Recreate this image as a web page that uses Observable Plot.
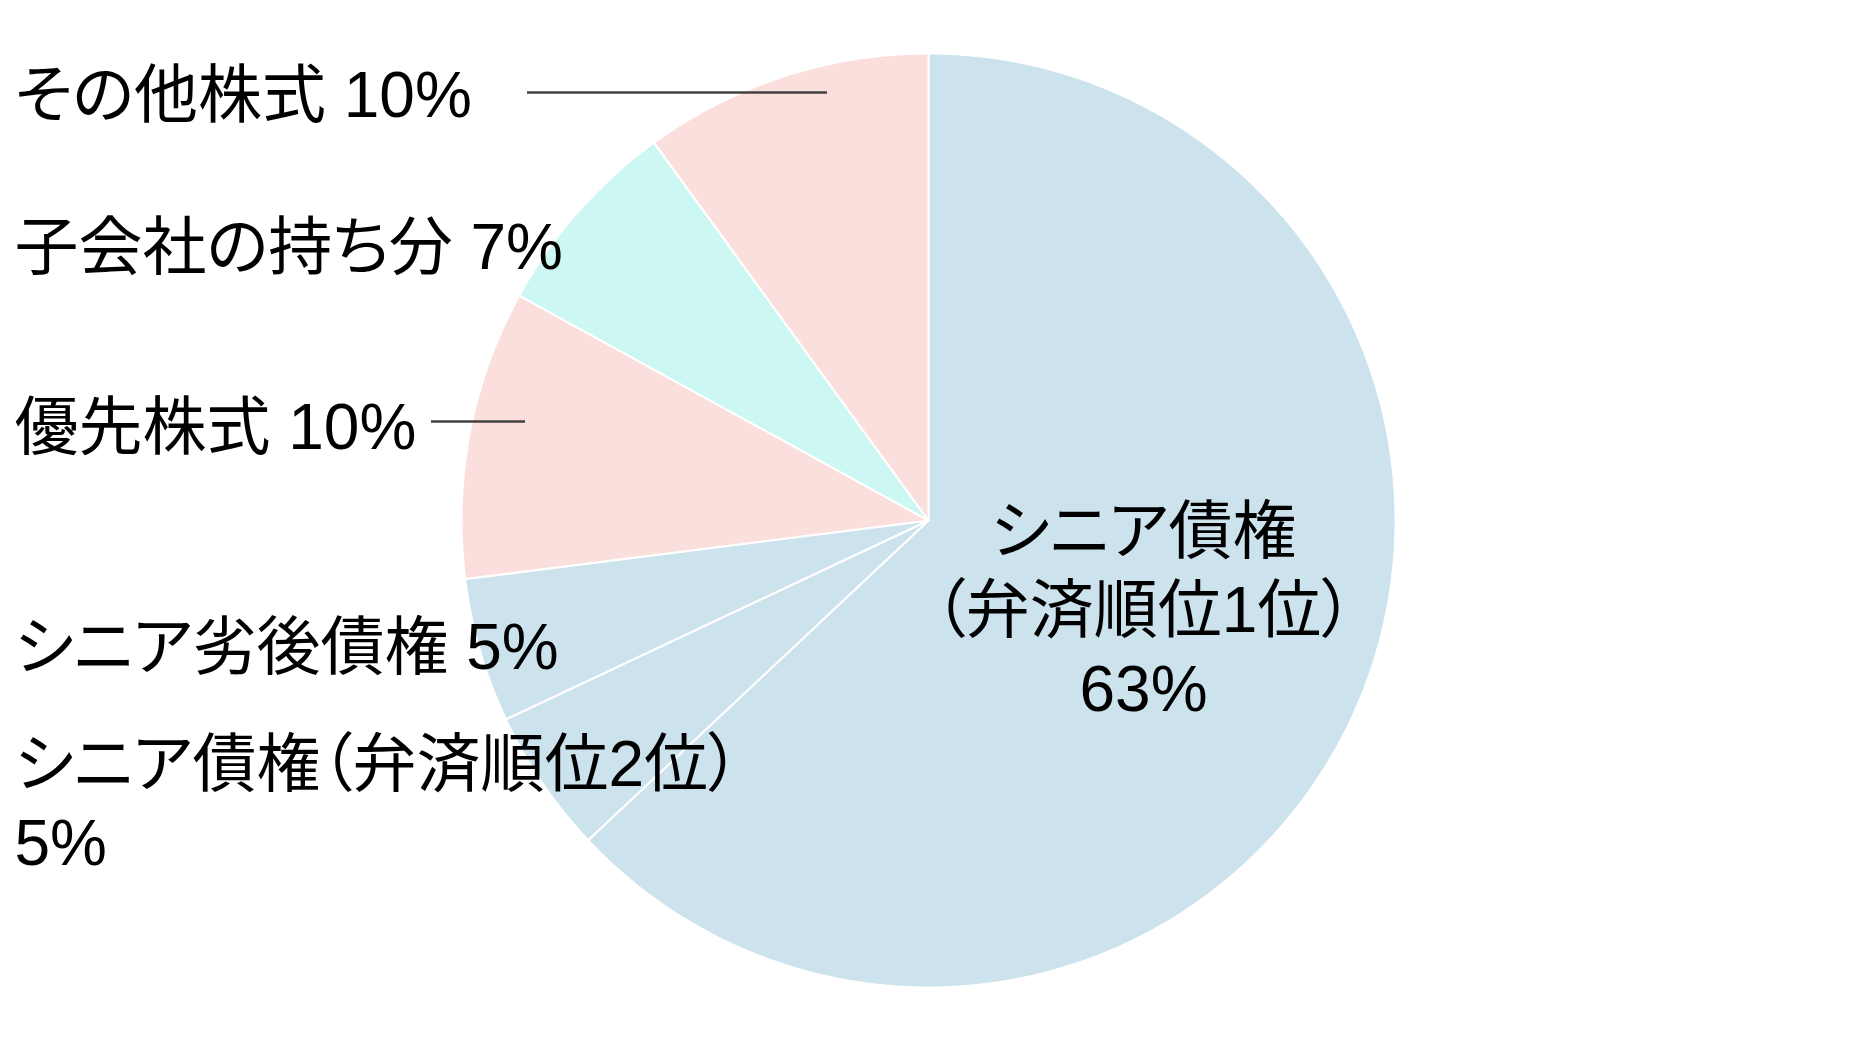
<!DOCTYPE html>
<html>
<head>
<meta charset="utf-8">
<script src="https://cdn.jsdelivr.net/npm/d3@7"></script>
<script src="https://cdn.jsdelivr.net/npm/@observablehq/plot@0.6"></script>
<style>
  html, body { margin: 0; padding: 0; background: #ffffff; }
  #chart svg { display: block; }
  #chart svg text { font-feature-settings: "palt"; }
  #chart svg g[aria-label="labels-fullwidth"] text { font-feature-settings: normal; }
</style>
</head>
<body>
<div id="chart"></div>
<script>
// ---- data ----
const categories = [
  "シニア債権（弁済順位1位）",
  "シニア債権（弁済順位2位）",
  "シニア劣後債権",
  "優先株式",
  "子会社の持ち分",
  "その他株式"
];
const values = [63, 5, 5, 10, 7, 10];
const displayNames = [
  "シニア債権\n（弁済順位1位）",
  "シニア債権（弁済順位2位）",
  "シニア劣後債権",
  "優先株式",
  "子会社の持ち分",
  "その他株式"
];
const nameValueSeparators = ["\n", "\n", " ", " ", " ", " "];

// ---- style & layout ----
const W = 1858, H = 1040;
const pie = {cx: 928, cy: 520, r: 467};
const sliceColors = ["#cce2ed", "#cce2ed", "#cce2ed", "#fbdfdc", "#cdf7f2", "#fbdfdc"];
const labelLayout = [
  {x: 1143, y: 710, anchor: "middle", group: "labels-center"},
  {x: 14, y: 864, anchor: "start", group: "labels-left"},
  {x: 14, y: 668, anchor: "start", group: "labels-left"},
  {x: 14, y: 448, anchor: "start", group: "labels-left"},
  {x: 14, y: 268, anchor: "start", group: "labels-fullwidth"},
  {x: 14, y: 116, anchor: "start", group: "labels-fullwidth"}
];
const leaderLayout = [
  {x1: 527, x2: 827, y: 92},
  {x1: 431, x2: 525, y: 421}
];
const fontFamily = "'Liberation Sans', Arial, 'Noto Sans CJK JP', sans-serif";

// ---- build slice outlines from the values ----
const arcs = d3.pie().sort(null).value(d => d)(values);
const slicePoints = [];
arcs.forEach((a, i) => {
  const cat = categories[i];
  slicePoints.push({cat, x: pie.cx, y: pie.cy});
  const steps = Math.max(2, Math.ceil((a.endAngle - a.startAngle) / (Math.PI / 360)));
  for (let k = 0; k <= steps; ++k) {
    const t = a.startAngle + (a.endAngle - a.startAngle) * k / steps;
    slicePoints.push({cat, x: pie.cx + pie.r * Math.sin(t), y: pie.cy - pie.r * Math.cos(t)});
  }
  slicePoints.push({cat, x: pie.cx, y: pie.cy});
});

const labels = categories.map((c, i) => ({
  text: displayNames[i] + nameValueSeparators[i] + values[i] + "%",
  ...labelLayout[i]
}));

const textOpts = {
  x: "x", y: "y", text: "text",
  fontSize: 64, lineHeight: 1.23, lineAnchor: "bottom",
  fill: "#000000", fontFamily
};

const textMark = (group, textAnchor) =>
  Plot.text(labels.filter(d => d.group === group), {...textOpts, textAnchor, ariaLabel: group});

const chart = Plot.plot({
  width: W,
  height: H,
  margin: 0,
  style: {background: "#ffffff", overflow: "visible"},
  x: {domain: [0, W], range: [0, W], axis: null},
  y: {domain: [0, H], range: [0, H], axis: null},
  color: {domain: categories, range: sliceColors},
  marks: [
    Plot.line(slicePoints, {
      x: "x", y: "y", z: "cat", fill: "cat",
      stroke: "#ffffff", strokeWidth: 2, strokeLinejoin: "round", curve: "linear"
    }),
    Plot.ruleY(leaderLayout, {y: "y", x1: "x1", x2: "x2", stroke: "#404040", strokeWidth: 2.5}),
    textMark("labels-center", "middle"),
    textMark("labels-left", "start"),
    textMark("labels-fullwidth", "start")
  ]
});
document.getElementById("chart").appendChild(chart);
</script>
</body>
</html>
